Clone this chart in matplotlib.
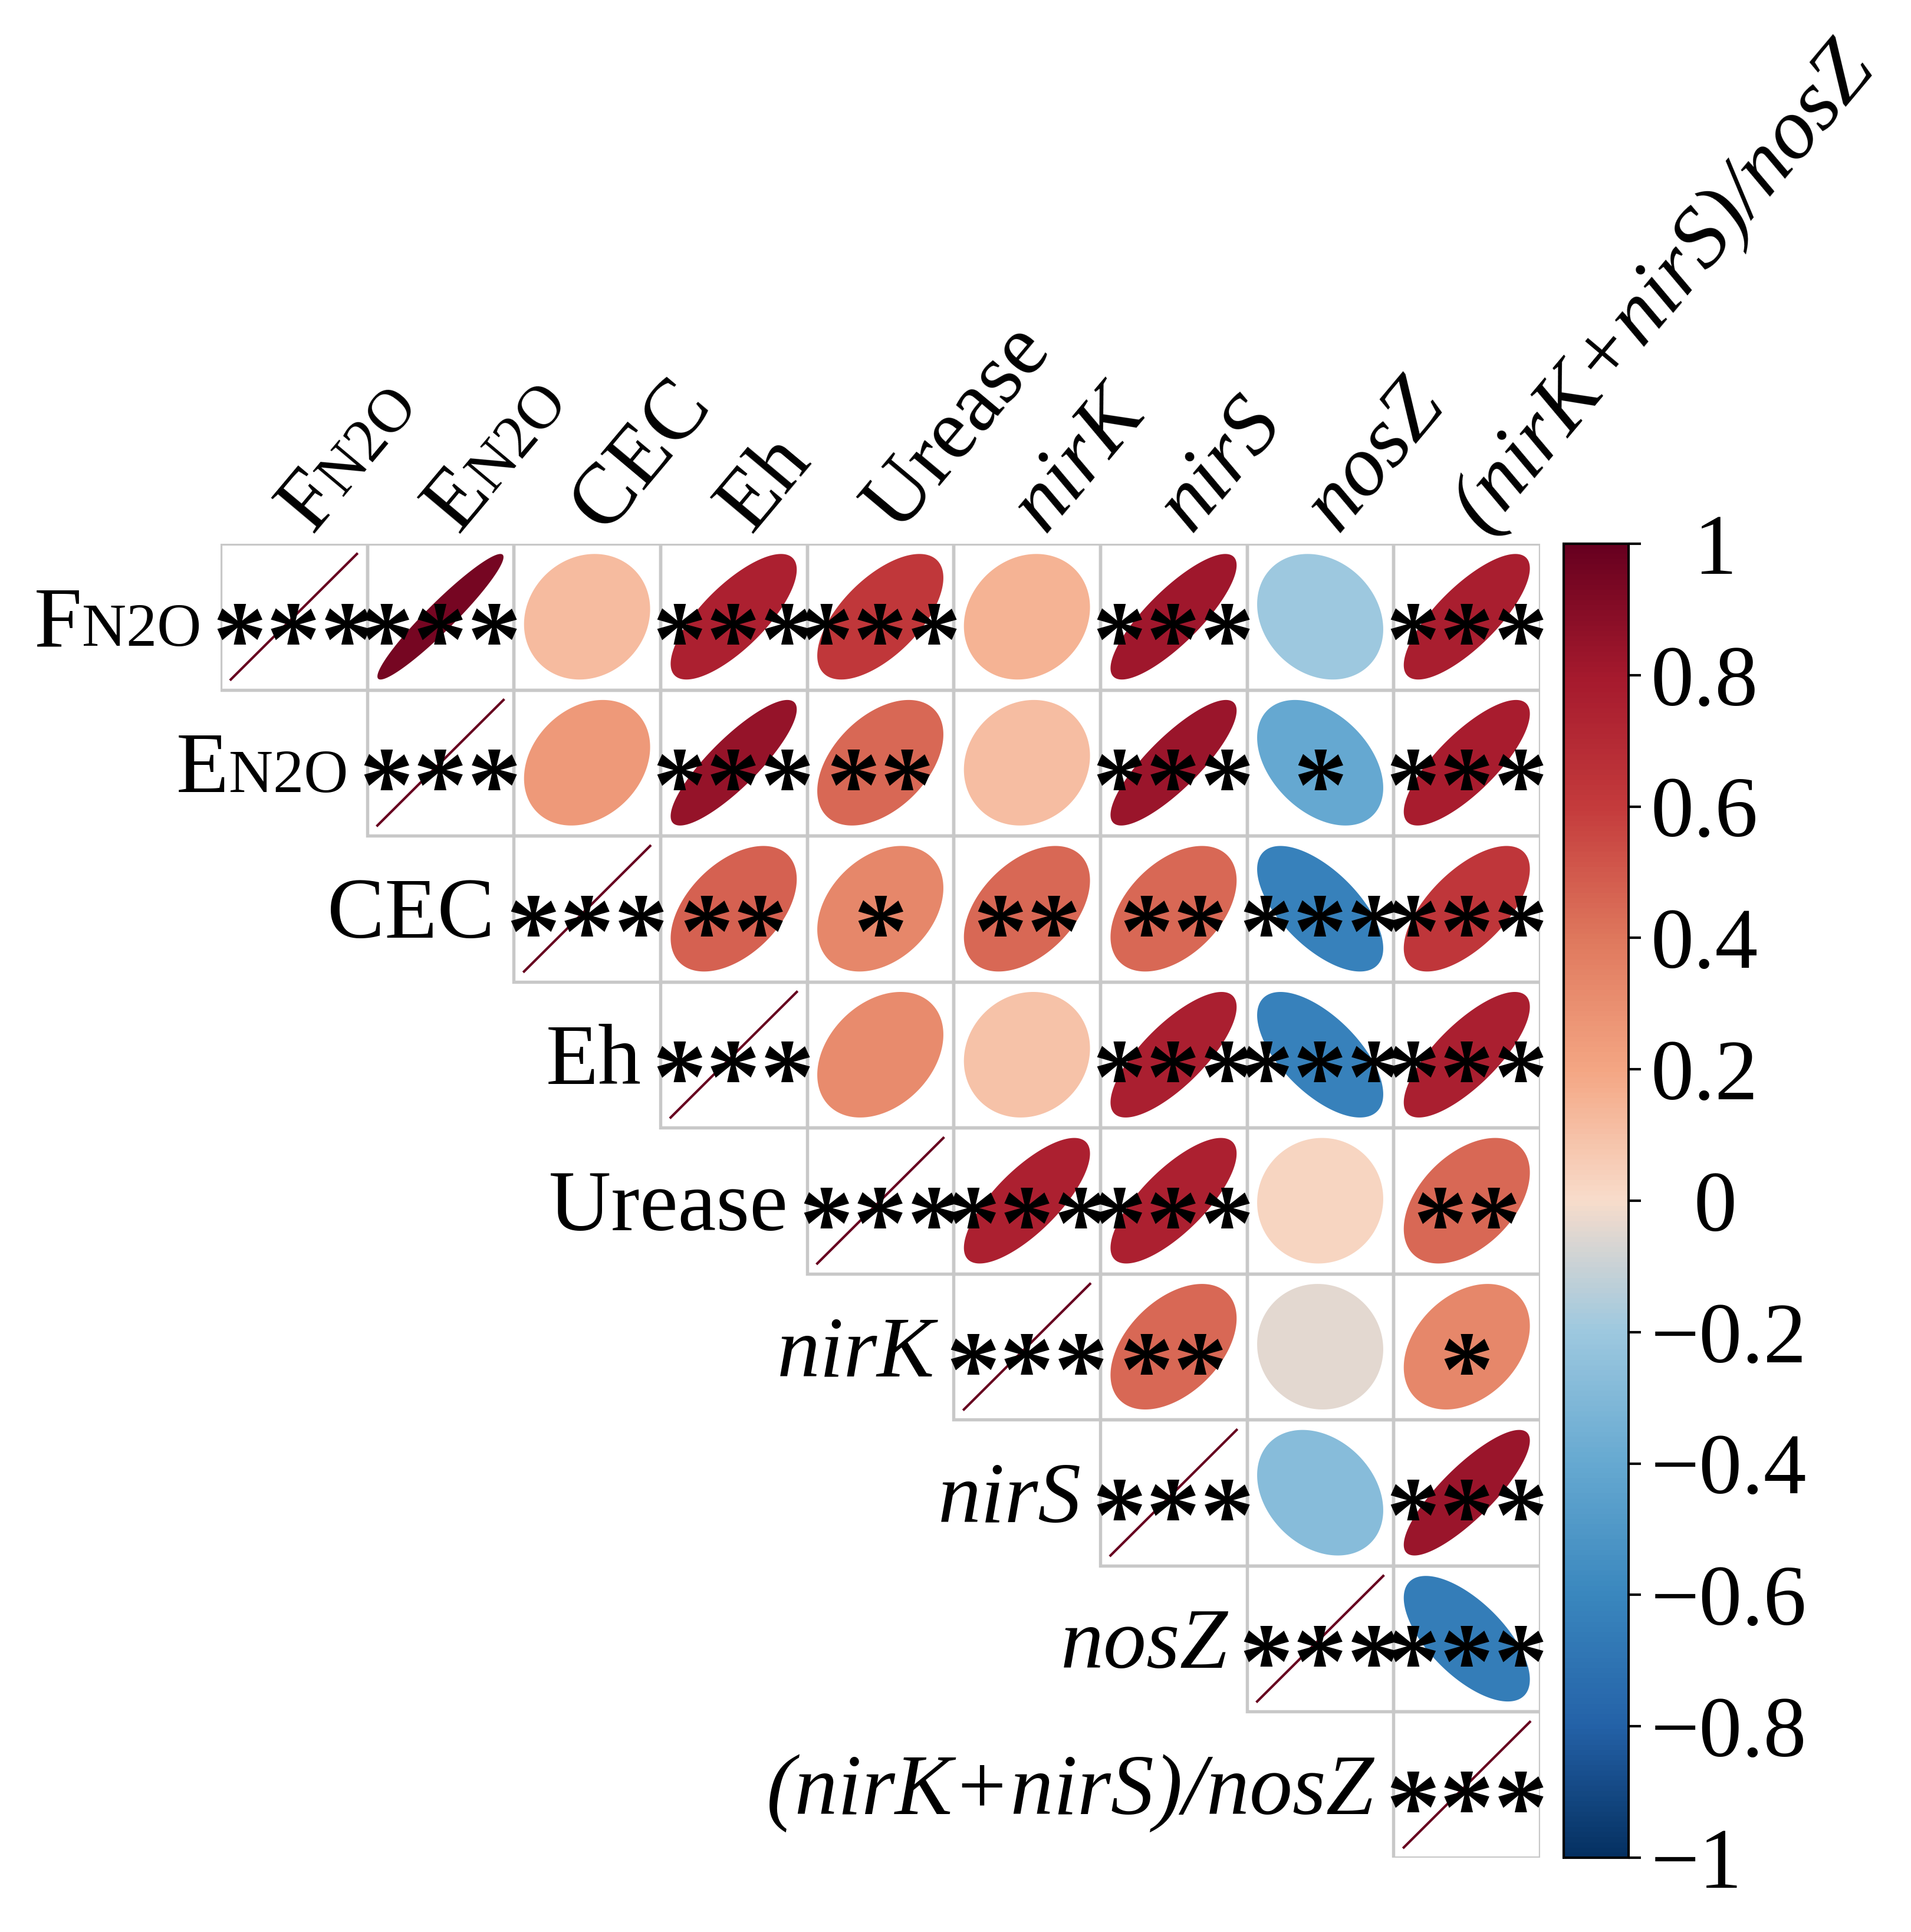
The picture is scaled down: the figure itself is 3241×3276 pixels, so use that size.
import numpy as np
import matplotlib
matplotlib.use("Agg")
import matplotlib.pyplot as plt
from matplotlib.colors import LinearSegmentedColormap, Normalize
from matplotlib.patches import Polygon, Rectangle
from matplotlib.cm import ScalarMappable
from matplotlib.transforms import offset_copy

plt.rcParams['font.family'] = ['Liberation Serif', 'DejaVu Serif']

# variables (row/column order)
names = ["FN2O", "EN2O", "CEC", "Eh", "Urease", "nirK", "nirS", "nosZ", "(nirK+nirS)/nosZ"]
italic = [False, False, False, False, False, True, True, True, True]

# upper triangle correlations, row by row (diagonal included)
r_FN2O = [1.00, 0.95, 0.12, 0.75, 0.62, 0.15, 0.82, -0.20, 0.77]
r_EN2O = [1.00, 0.25, 0.85, 0.45, 0.11, 0.83, -0.40, 0.78]
r_CEC = [1.00, 0.47, 0.33, 0.45, 0.45, -0.63, 0.63]
r_Eh = [1.00, 0.32, 0.10, 0.76, -0.63, 0.76]
r_Urease = [1.00, 0.75, 0.75, 0.03, 0.45]
r_nirK = [1.00, 0.45, -0.04, 0.33]
r_nirS = [1.00, -0.28, 0.83]
r_nosZ = [1.00, -0.65]
r_ratio = [1.00]

# significance stars, same layout
s_FN2O = ["***", "***", "", "***", "***", "", "***", "", "***"]
s_EN2O = ["***", "", "***", "**", "", "***", "*", "***"]
s_CEC = ["***", "**", "*", "**", "**", "***", "***"]
s_Eh = ["***", "", "", "***", "***", "***"]
s_Urease = ["***", "***", "***", "", "**"]
s_nirK = ["***", "**", "", "*"]
s_nirS = ["***", "", "***"]
s_nosZ = ["***", "***"]
s_ratio = ["***"]

r_rows = [r_FN2O, r_EN2O, r_CEC, r_Eh, r_Urease, r_nirK, r_nirS, r_nosZ, r_ratio]
s_rows = [s_FN2O, s_EN2O, s_CEC, s_Eh, s_Urease, s_nirK, s_nirS, s_nosZ, s_ratio]

cbar_ticks = [1, 0.8, 0.6, 0.4, 0.2, 0, -0.2, -0.4, -0.6, -0.8, -1]

# colour ramp
nodes = [(-1.0, "#053061"), (-0.8, "#2462A8"), (-0.6, "#3A87BE"), (-0.4, "#66A9D1"),
         (-0.2, "#9DC8DF"), (-0.07, "#D6D5D3"), (0.0, "#F8DCCB"), (0.2, "#F4A683"),
         (0.4, "#DF785D"), (0.6, "#C43B3C"), (0.8, "#A5192D"), (1.0, "#67001F")]
cmap = LinearSegmentedColormap.from_list("corr", [((v + 1) / 2, c) for v, c in nodes])
norm = Normalize(-1, 1)

W, H = 3241, 3276
fig = plt.figure(figsize=(W / 300, H / 300), dpi=300)
gl, gr, gt, gb = 374, 2612, 922, 3150
ax = fig.add_axes([gl / W, 1 - gb / H, (gr - gl) / W, (gb - gt) / H])
ax.set_xlim(0, 9)
ax.set_ylim(9, 0)
ax.axis("off")

n = len(names)
scale = 0.43
t = np.linspace(0, 2 * np.pi, 200)
for i in range(n):
    for k, r in enumerate(r_rows[i]):
        j = i + k
        cx, cy = j + 0.5, i + 0.5
        ax.add_patch(Rectangle((j, i), 1, 1, fill=False, ec="#C8C8C8", lw=1.3, zorder=1))
        if i == j:
            ax.plot([j + 0.07, j + 0.93], [i + 0.93, i + 0.07], color="#67001F", lw=1.0, zorder=2)
        else:
            d = np.arccos(r)
            px = cx + scale * np.cos(t + d / 2)
            py = cy - scale * np.cos(t - d / 2)
            ax.add_patch(Polygon(np.c_[px, py], closed=True, fc=cmap(norm(r)), ec="none", zorder=2))
        st = s_rows[i][k]
        if st:
            ax.text(cx, cy + 0.40, st, fontsize=44, fontweight="bold",
                    ha="center", va="baseline", zorder=3)

renderer = fig.canvas.get_renderer()


def text_width(s, size, style="normal"):
    tt = fig.text(0, 0, s, fontsize=size, fontstyle=style)
    w = tt.get_window_extent(renderer).width
    tt.remove()
    return w


big, small = 35, 25
rot = 50
ang = np.deg2rad(rot)
for i, name in enumerate(names):
    style = "italic" if italic[i] else "normal"
    # row label
    rx, ry = i - 0.13, i + 0.5 + 0.2
    if name.endswith("N2O"):
        ax.text(rx, ry, "N2O", fontsize=small, ha="right", va="baseline")
        w = text_width("N2O", small)
        tr = offset_copy(ax.transData, fig=fig, x=-w, y=0, units="dots")
        ax.text(rx, ry, name[0], fontsize=big, ha="right", va="baseline", transform=tr)
    else:
        ax.text(rx, ry, name, fontsize=big, ha="right", va="baseline", fontstyle=style)
    # column label
    cx, cy = i + 0.62, -0.07
    if name.endswith("N2O"):
        ax.text(cx, cy, name[0], fontsize=big, ha="left", va="baseline",
                rotation=rot, rotation_mode="anchor")
        w = text_width(name[0], big)
        tr = offset_copy(ax.transData, fig=fig, x=w * np.cos(ang), y=w * np.sin(ang), units="dots")
        ax.text(cx, cy, "N2O", fontsize=small, ha="left", va="baseline",
                rotation=rot, rotation_mode="anchor", transform=tr)
    else:
        ax.text(cx, cy, name, fontsize=big, ha="left", va="baseline", fontstyle=style,
                rotation=rot, rotation_mode="anchor")

# colour legend
cax = fig.add_axes([2652 / W, 1 - gb / H, 110 / W, (gb - gt) / H])
cb = fig.colorbar(ScalarMappable(norm=norm, cmap=cmap), cax=cax)
cb.outline.set_linewidth(1.0)
cb.set_ticks(cbar_ticks)
labels = []
for v in cbar_ticks:
    if v == 1 or v == 0:
        labels.append("  " + str(v))
    elif v < 0:
        labels.append("\u2212" + str(abs(v)))
    else:
        labels.append(str(v))
cb.set_ticklabels(labels)
cax.tick_params(axis="y", direction="out", length=5, width=1.0, pad=4, labelsize=35)

fig.savefig("out.png", dpi=300)
